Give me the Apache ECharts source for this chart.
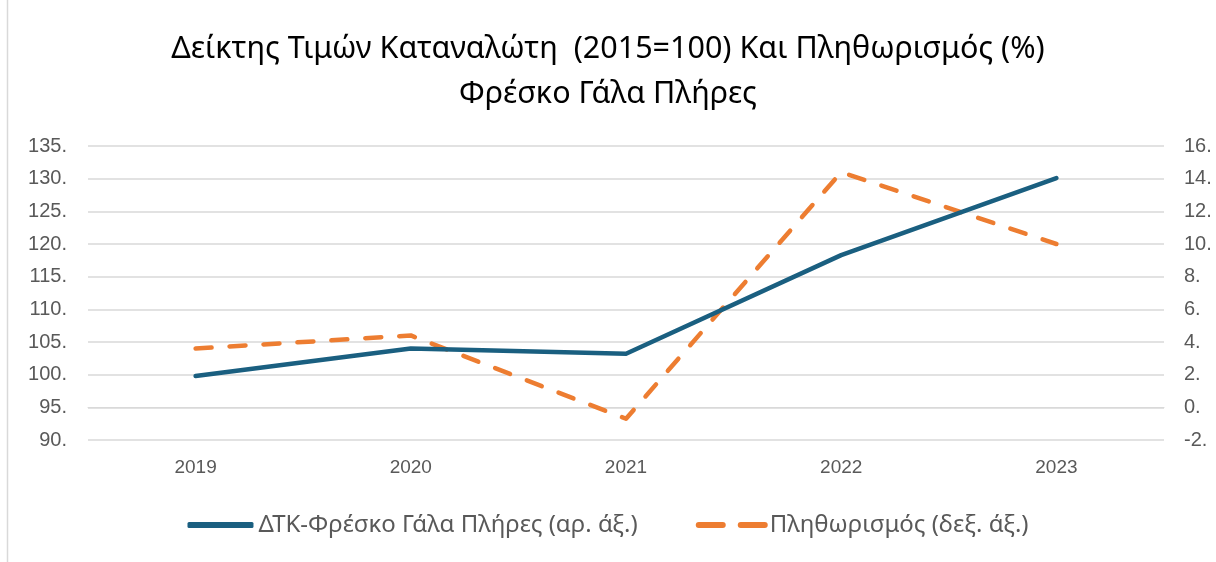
<!DOCTYPE html>
<html>
<head>
<meta charset="utf-8">
<script src="https://cdn.jsdelivr.net/npm/echarts@6/dist/echarts.min.js"></script>
<style>
  html, body { margin: 0; padding: 0; background: #fff; }
  #chart { width: 1216px; height: 562px; }
</style>
</head>
<body>
<div id="chart"></div>
<script>
// data
const years = ['2019', '2020', '2021', '2022', '2023'];
const cpiMilk = [99.8, 104.0, 103.2, 118.3, 130.1];
const inflation = [3.6, 4.4, -0.7, 14.4, 10.0];
const cpiName = 'ΔΤΚ-Φρέσκο Γάλα Πλήρες (αρ. άξ.)';
const inflName = 'Πληθωρισμός (δεξ. άξ.)';

const chart = echarts.init(document.getElementById('chart'));
const grey = '#595959';
const gridCol = '#d9d9d9';
const axisFont = '"Liberation Sans", Arial, sans-serif';
const textFont = '"Noto Sans", sans-serif';

chart.setOption({
  animation: false,
  title: {
    text: 'Δείκτης Τιμών Καταναλώτη  (2015=100) Και Πληθωρισμός (%)\nΦρέσκο Γάλα Πλήρες',
    left: 'center',
    top: 22,
    textStyle: {
      fontFamily: textFont,
      fontSize: 30.5,
      fontWeight: 'normal',
      color: '#000',
      lineHeight: 45
    }
  },
  legend: {
    bottom: 20,
    left: 'center',
    itemGap: 58,
    itemWidth: 66,
    itemHeight: 6,
    textStyle: { fontFamily: textFont, fontSize: 24, color: grey },
    data: [
      { name: cpiName, icon: 'roundRect' },
      {
        name: inflName,
        itemStyle: { opacity: 0 },
        lineStyle: { type: [24, 18], width: 6, cap: 'round' }
      }
    ]
  },
  grid: { left: 88, right: 52, top: 146, bottom: 122, containLabel: false },
  xAxis: {
    type: 'category',
    data: years,
    boundaryGap: true,
    axisLine: { lineStyle: { color: gridCol } },
    axisTick: { show: false },
    axisLabel: { color: grey, fontFamily: axisFont, fontSize: 19, margin: 18 }
  },
  yAxis: [
    {
      type: 'value',
      min: 90, max: 135, interval: 5,
      axisLine: { show: false },
      axisTick: { show: false },
      splitLine: { lineStyle: { color: gridCol, width: 1.5 } },
      axisLabel: {
        color: grey, fontFamily: axisFont, fontSize: 20, margin: 21,
        formatter: v => v + '.'
      }
    },
    {
      type: 'value',
      min: -2, max: 16, interval: 2,
      axisLine: { show: false },
      axisTick: { show: false },
      splitLine: { show: false },
      axisLabel: {
        color: grey, fontFamily: axisFont, fontSize: 20, margin: 20,
        formatter: v => v + '.'
      }
    }
  ],
  series: [
    {
      name: cpiName,
      type: 'line',
      yAxisIndex: 0,
      data: cpiMilk,
      symbol: 'none',
      color: '#1a5f80',
      lineStyle: { width: 4.5, color: '#1a5f80', cap: 'round', join: 'round' },
      z: 3
    },
    {
      name: inflName,
      type: 'line',
      yAxisIndex: 1,
      data: inflation,
      symbol: 'none',
      color: '#ed7d31',
      lineStyle: { width: 4.5, color: '#ed7d31', type: [16, 18], cap: 'round', join: 'round' },
      z: 2
    }
  ],
  graphic: [
    {
      type: 'line',
      shape: { x1: 7.5, y1: 0, x2: 7.5, y2: 562 },
      style: { stroke: gridCol, lineWidth: 1.5 }
    }
  ]
});
</script>
</body>
</html>
